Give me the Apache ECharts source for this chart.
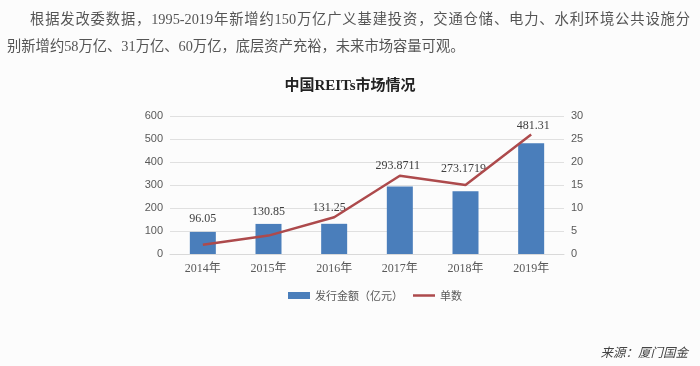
<!DOCTYPE html>
<html>
<head>
<meta charset="utf-8">
<script src="https://cdn.jsdelivr.net/npm/echarts@6/dist/echarts.min.js"></script>
<style>
  html, body { margin: 0; padding: 0; background: #fcfcfc; }
  #wrap { position: relative; width: 700px; height: 366px; overflow: hidden; }
  #chart { position: absolute; left: 0; top: 0; width: 700px; height: 366px; }
  .para {
    position: absolute; white-space: nowrap;
    font-family: "Liberation Serif", "Noto Sans CJK SC", serif;
    font-size: 14.3px; line-height: 27px; color: #555; z-index: 2;
  }
  #p1 { left: 30px; top: 6px; width: 660px; text-align: justify; text-align-last: justify; }
  #p2 { left: 7px; top: 33px; }
</style>
</head>
<body>
<div id="wrap">
  <div id="chart"></div>
  <div id="p1" class="para">根据发改委数据，1995-2019年新增约150万亿广义基建投资，交通仓储、电力、水利环境公共设施分</div>
  <div id="p2" class="para">别新增约58万亿、31万亿、60万亿，底层资产充裕，未来市场容量可观。</div>
</div>
<script>
const categories = ['2014年', '2015年', '2016年', '2017年', '2018年', '2019年'];
const issueAmount = [96.05, 130.85, 131.25, 293.8711, 273.1719, 481.31];
const dealCount = [2, 4, 8, 17, 15, 26];
const amountLabels = ['96.05', '130.85', '131.25', '293.8711', '273.1719', '481.31'];
const leftTicks = [0, 600, 100];
const rightTicks = [0, 30, 5];

const labelLift = [7, 6, 10, 15, 16, 11];
const labelShift = [0, 0, -5, -2, -2, 2];

const chart = echarts.init(document.getElementById('chart'));
const axisLabelStyle = { color: '#595959', fontSize: 11, fontFamily: 'Liberation Sans, Arial, sans-serif' };

chart.setOption({
  backgroundColor: '#fcfcfc',
  animation: false,
  title: {
    text: '中国REITs市场情况',
    left: 'center',
    top: 74,
    textStyle: { fontSize: 15, fontWeight: 'bold', color: '#222', fontFamily: 'Liberation Serif, Noto Sans CJK SC, serif' }
  },
  graphic: [{
    type: 'text',
    right: 12,
    top: 346,
    style: {
      text: '来源：厦门国金',
      fill: '#444',
      font: 'italic 12.5px "Noto Sans CJK SC", sans-serif'
    }
  }],
  legend: {
    left: 283,
    top: 285,
    itemWidth: 22,
    itemHeight: 7,
    itemGap: 10,
    textStyle: { color: '#595959', fontSize: 11, fontFamily: 'Noto Sans CJK SC, sans-serif' },
    data: [
      { name: '发行金额（亿元）', icon: 'rect' },
      { name: '单数', icon: 'path://M0,0 L22,0 L22,2.5 L0,2.5 Z' }
    ]
  },
  grid: { left: 170, right: 136, top: 116, bottom: 112, containLabel: false },
  xAxis: {
    type: 'category',
    data: categories,
    axisTick: { show: false },
    axisLine: { lineStyle: { color: '#d9d9d9' } },
    axisLabel: { color: '#595959', fontSize: 12, margin: 9, fontFamily: 'Liberation Serif, Noto Sans CJK SC, serif' }
  },
  yAxis: [{
    type: 'value',
    min: leftTicks[0], max: leftTicks[1], interval: leftTicks[2],
    axisLine: { show: false }, axisTick: { show: false },
    splitLine: { lineStyle: { color: '#e0e0e0' } },
    axisLabel: Object.assign({ margin: 7 }, axisLabelStyle)
  }, {
    type: 'value',
    min: rightTicks[0], max: rightTicks[1], interval: rightTicks[2],
    axisLine: { show: false }, axisTick: { show: false },
    splitLine: { show: false },
    axisLabel: Object.assign({ margin: 7 }, axisLabelStyle)
  }],
  series: [{
    name: '发行金额（亿元）',
    type: 'bar',
    barWidth: 26,
    itemStyle: { color: '#4a7ebb' },
    data: issueAmount.map((v, i) => ({
      value: v,
      label: { distance: labelLift[i], offset: [labelShift[i], 0] }
    })),
    label: {
      show: true,
      position: 'top',
      color: '#404040',
      fontSize: 12,
      fontFamily: 'Liberation Serif, serif',
      formatter: p => amountLabels[p.dataIndex]
    }
  }, {
    name: '单数',
    type: 'line',
    yAxisIndex: 1,
    symbol: 'none',
    lineStyle: { color: '#ad4a4c', width: 2.5 },
    itemStyle: { color: '#ad4a4c' },
    data: dealCount,
    z: 3
  }]
});
</script>
</body>
</html>
